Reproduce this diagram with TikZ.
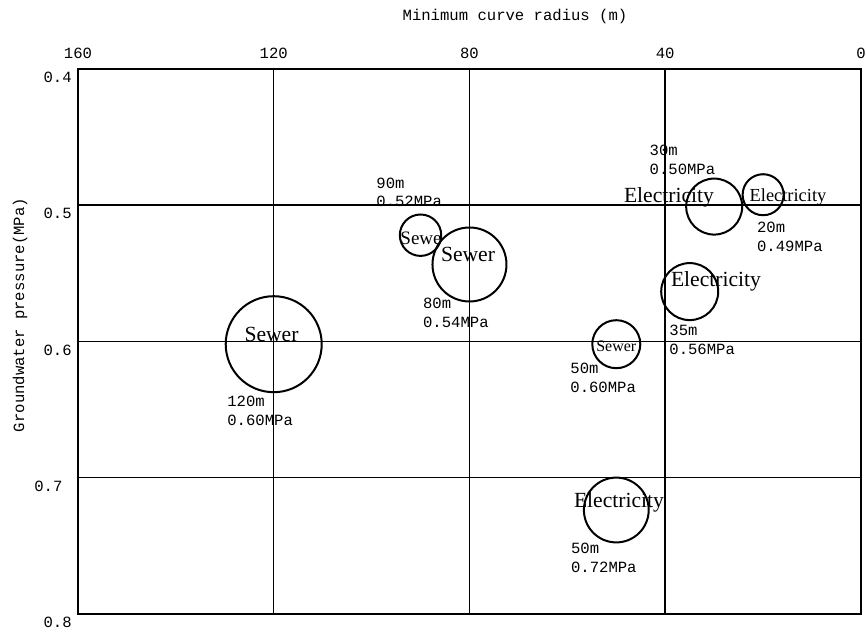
\documentclass[tikz,border=0pt]{standalone}
\usepackage{fontspec}
\setmainfont{Liberation Serif}
\setmonofont{Liberation Mono}
\usetikzlibrary{positioning}
\tikzset{
    frame/.style={line width=0.75pt},
    pipe/.style={circle, draw, line width=1pt, inner sep=0pt},
    kind/.style={inner sep=0pt, font=\fontsize{10.8}{12}\selectfont},
    value/.style={inner sep=0pt, anchor=west, align=left, font=\ttfamily\fontsize{7.8}{9.25}\selectfont},
    tick/.style={inner sep=0pt, font=\ttfamily\fontsize{7.8}{9}\selectfont},
}

\begin{document}
\begin{tikzpicture}
        [x=-2.447pt, y=-681.25pt]
        \useasboundingbox (175.93,0.3494) rectangle (-1.022,0.8162);

        % frame and grid
        \draw[frame] (160,0.4) rectangle (0,0.8);
        \foreach \r in {120,80,40}
            \draw[frame] (\r,0.4) -- (\r,0.8);
        \foreach \p in {0.5,0.6,0.7}
            \draw[frame] (160,\p) -- (0,\p);

        % axes
        \foreach \r in {160,120,80,40,0}
            \node[tick] (t\r) at (\r,0.3883) {\r};
        \foreach \p/\x [count=\i] in {0.4/161.2,0.5/161.2,0.6/161.2,0.7/163.1,0.8/161.2}
            \node[tick, anchor=east] (p\i) at (\x,\p+0.0062) {\p};
        \node[tick] (xtitle) at (70.7,0.3616) {Minimum curve radius (m)};
        \node[tick, rotate=90] (ytitle) at (171.8,0.5806) {Groundwater pressure(MPa)};

        % pipes
        \node[pipe, minimum size=48pt] (sew120) at (120,0.602) {};
        \node[pipe, minimum size=20.7pt] (sew90) at (90,0.522) {};
        \node[pipe, minimum size=37pt] (sew80) at (80,0.5435) {};
        \node[pipe, minimum size=24pt] (sew50) at (50,0.602) {};
        \node[pipe, minimum size=32.4pt] (ele72) at (50,0.7237) {};
        \node[pipe, minimum size=28pt] (ele30) at (30,0.501) {};
        \node[pipe, minimum size=20.5pt] (ele20) at (20,0.4923) {};
        \node[pipe, minimum size=28.5pt] (ele35) at (35,0.5634) {};

        \node[kind] (lsew120) at (120.45,0.5952) {Sewer};
        \node[kind, font=\fontsize{9.5}{11}\selectfont] (lsew90) at (89.9,0.524) {Sewe};
        \node[kind] (lsew80) at (80.3,0.5358) {Sewer};
        \node[kind, font=\fontsize{8}{9}\selectfont] (lsew50) at (50,0.6032) {Sewer};
        \node[kind] (lele72) at (49.45,0.7182) {Electricity};
        \node[kind] (lele30) at (39.23,0.4943) {Electricity};
        \node[kind, font=\fontsize{9.2}{10}\selectfont] (lele20) at (14.92,0.4939) {Electricity};
        \node[kind] (lele35) at (29.63,0.5556) {Electricity};

        % values
        \node[value] (v120) at (129.55,0.651) {120m\\0.60MPa};
        \node[value] (v90) at (99.1,0.4906) {90m\\0.52MPa};
        \node[value] (v80) at (89.56,0.5791) {80m\\0.54MPa};
        \node[value] (v50a) at (59.46,0.6268) {50m\\0.60MPa};
        \node[value] (v50b) at (59.32,0.7589) {50m\\0.72MPa};
        \node[value] (v35) at (39.23,0.5989) {35m\\0.56MPa};
        \node[value] (v30) at (43.26,0.4668) {30m\\0.50MPa};
        \node[value] (v20) at (21.31,0.5233) {20m\\0.49MPa};

    \end{tikzpicture}
\end{document}
